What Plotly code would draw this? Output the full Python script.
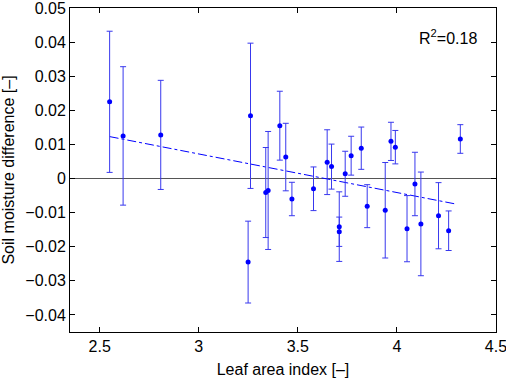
import plotly.graph_objects as go

lai = [2.55, 2.618, 2.808, 3.261, 3.249, 3.338, 3.350, 3.409, 3.439, 3.470,
       3.579, 3.648, 3.670, 3.709, 3.709, 3.739, 3.769, 3.820, 3.850, 3.941,
       3.970, 3.992, 4.051, 4.091, 4.121, 4.210, 4.261, 4.320]
sm_diff = [0.0225, 0.0125, 0.0128, 0.0184, -0.0245, -0.0041, -0.0035, 0.0155, 0.0063, -0.0060,
           -0.0030, 0.0048, 0.0035, -0.0141, -0.0156, 0.0014, 0.0067, 0.0089, -0.0081, -0.0093,
           0.0109, 0.0092, -0.0147, -0.0016, -0.0133, -0.0109, -0.0153, 0.0116]
sm_err = [0.0207, 0.0203, 0.0160, 0.0213, 0.0120, 0.0132, 0.0173, 0.0101, 0.0099, 0.0049,
          0.0064, 0.0095, 0.0066, 0.0102, 0.0043, 0.0066, 0.0057, 0.0062, 0.0063, 0.0140,
          0.0056, 0.0049, 0.0097, 0.0093, 0.0152, 0.0097, 0.0058, 0.0042]

fit_x = [2.55, 4.30]
fit_y = [0.0123, -0.0075]

x_ticks = [2.5, 3, 3.5, 4, 4.5]
y_ticks = [-0.04, -0.03, -0.02, -0.01, 0, 0.01, 0.02, 0.03, 0.04, 0.05]
y_ticktext = ["\u22120.04", "\u22120.03", "\u22120.02", "\u22120.01", "0",
              "0.01", "0.02", "0.03", "0.04", "0.05"]

font = "Liberation Sans, Arial, sans-serif"
FS = 16

fig = go.Figure()
fig.add_trace(go.Scatter(
    x=fit_x, y=fit_y, mode="lines",
    line=dict(color="#0000ff", width=1, dash="dashdot"),
    hoverinfo="skip", showlegend=False))
fig.add_trace(go.Scatter(
    x=lai, y=sm_diff, mode="markers",
    marker=dict(color="#0000ff", size=5),
    error_y=dict(type="data", array=sm_err, visible=True,
                 color="#3838ee", thickness=1, width=3),
    showlegend=False))

fig.add_annotation(x=4.258, y=0.0416, text="R<sup>2</sup>=0.18", showarrow=False,
                   font=dict(family=font, size=FS, color="black"))

axis_common = dict(
    showline=True, linecolor="black", linewidth=1, mirror="ticks",
    ticks="inside", ticklen=5, tickcolor="black",
    showgrid=False, automargin=False, ticklabeloverflow="allow",
    tickfont=dict(family=font, size=FS, color="black"),
)

fig.update_xaxes(range=[2.35, 4.5001], tickvals=x_ticks, ticktext=[str(v) for v in x_ticks],
                 zeroline=False,
                 title=dict(text="Leaf area index [–]", font=dict(family=font, size=FS, color="black"),
                            standoff=10),
                 **axis_common)
fig.update_yaxes(range=[-0.045, 0.05001], tickvals=y_ticks, ticktext=y_ticktext,
                 zeroline=True, zerolinecolor="#555555", zerolinewidth=1,
                 title=dict(text="Soil moisture difference [–]", font=dict(family=font, size=FS, color="black"),
                            standoff=8),
                 **axis_common)

fig.update_layout(
    width=506, height=378,
    margin=dict(l=70, r=10, t=8, b=46),
    paper_bgcolor="white", plot_bgcolor="white",
    font=dict(family=font, size=FS, color="black"),
)

fig.write_html("out.html")
